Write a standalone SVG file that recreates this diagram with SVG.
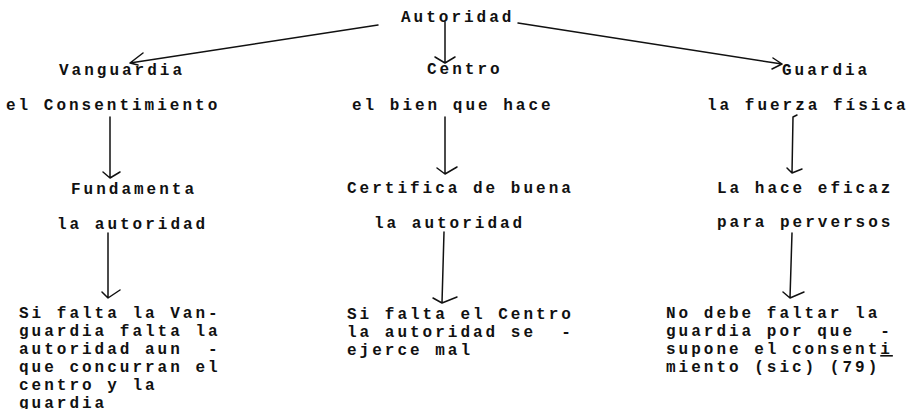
<svg xmlns="http://www.w3.org/2000/svg" width="914" height="409" viewBox="0 0 914 409">
<style>
  text { font-family: "Liberation Mono", "DejaVu Sans Mono", monospace; font-size: 16px; font-weight: bold; fill: #111; letter-spacing: 3px; }
  .c { fill: none; stroke: #111; stroke-width: 1.5; stroke-linecap: round; stroke-linejoin: round; }
</style>
<rect width="914" height="409" fill="#ffffff"/>
<g id="connectors">
  <path class="c" d="M378,25 L130,63 M143,53 L130,63 L138,65"/>
  <path class="c" d="M445,22 L445,63 M435,57 L445,63 L455,57"/>
  <path class="c" d="M518,23 L782,64 M773,58 L782,64 L772,69"/>
  <path class="c" d="M110,117 L110,178 M103,172 L110,178 L120,172"/>
  <path class="c" d="M108,233 L108,298 M102,292 L108,298 L120,290"/>
  <path class="c" d="M445,117 L445,174 M437,168 L445,174 L457,167"/>
  <path class="c" d="M444,232 L442,303 M433,298 L442,303 L457,297"/>
  <path class="c" d="M797,115 L793,117 L792,173 M787,168 L792,173 L802,169"/>
  <path class="c" d="M792,233 L790,298 M783,292 L790,298 L804,292"/>
</g>
<g id="autoridad"><text x="401" y="22">Autoridad</text></g>
<g id="vanguardia"><text x="59" y="75">Vanguardia</text></g>
<g id="centro"><text x="427" y="74">Centro</text></g>
<g id="guardia"><text x="782" y="75">Guardia</text></g>
<g id="consentimiento"><text x="6" y="110">el Consentimiento</text></g>
<g id="bien"><text x="352" y="110">el bien que hace</text></g>
<g id="fuerza"><text x="707" y="110">la fuerza física</text></g>
<g id="fundamenta">
  <text x="71" y="194">Fundamenta</text>
  <text x="57" y="229">la autoridad</text>
</g>
<g id="certifica">
  <text x="347" y="193">Certifica de buena</text>
  <text x="374" y="228">la autoridad</text>
</g>
<g id="eficaz">
  <text x="717" y="193">La hace eficaz</text>
  <text x="717" y="227">para perversos</text>
</g>
<g id="falta-vanguardia">
  <text x="19" y="318" xml:space="preserve">Si falta la Van-</text>
  <text x="19" y="336" xml:space="preserve">guardia falta la</text>
  <text x="19" y="354" xml:space="preserve">autoridad aun  -</text>
  <text x="19" y="372" xml:space="preserve">que concurran el</text>
  <text x="19" y="390" xml:space="preserve">centro y la</text>
  <text x="19" y="408" xml:space="preserve">guardia</text>
</g>
<g id="falta-centro">
  <text x="347" y="319" xml:space="preserve">Si falta el Centro</text>
  <text x="347" y="337" xml:space="preserve">la autoridad se  -</text>
  <text x="347" y="355" xml:space="preserve">ejerce mal</text>
</g>
<g id="no-debe-faltar">
  <text x="666" y="318" xml:space="preserve">No debe faltar la</text>
  <text x="666" y="336" xml:space="preserve">guardia por que  -</text>
  <text x="666" y="354" xml:space="preserve">supone el consent<tspan text-decoration="underline">i</tspan></text>
  <text x="666" y="372" xml:space="preserve">miento (sic) (79)</text>
</g>
</svg>
